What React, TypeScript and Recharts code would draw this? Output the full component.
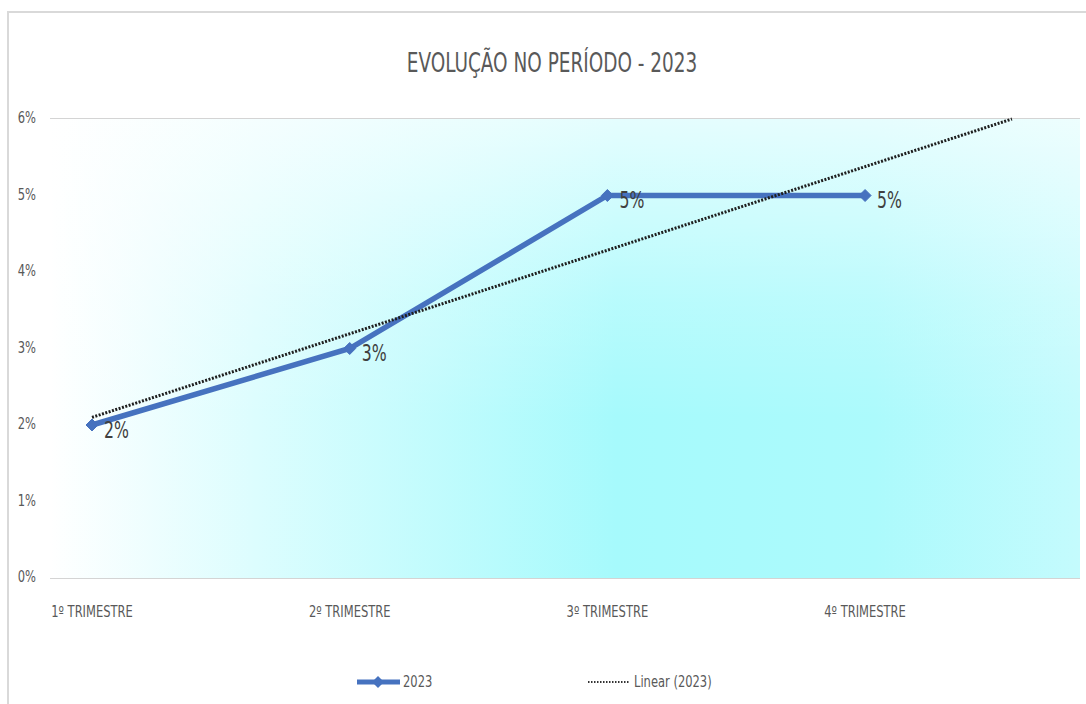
import React from 'react';
import {
  ComposedChart,
  Line,
  XAxis,
  YAxis,
  CartesianGrid,
  ReferenceArea,
  Customized,
} from 'recharts';

const categories = ['1º TRIMESTRE', '2º TRIMESTRE', '3º TRIMESTRE', '4º TRIMESTRE'];
const quarterPos = [1, 2, 3, 4];
const values2023 = [2, 3, 5, 5];
// trendline ends (Excel linear trend, forward forecast)
const trendPos = [1, 4.57];
const trendValues = [2.1, 6.0];
const yTicks = [0, 1, 2, 3, 4, 5, 6];

const seriesData = quarterPos.map((x, i) => ({ x, v: values2023[i] }));
const trendData = trendPos.map((x, i) => ({ x, t: trendValues[i] }));

const FONT = '"DejaVu Sans Condensed", "Open Sans", sans-serif';
const BLUE = '#4672bf';
const GRAY = '#595959';

// condensed text (the source font is a narrow one)
const CondText = ({ x, y, sx = 0.8, anchor = 'start', size = 15, fill = GRAY, children }: any) => (
  <text
    transform={`translate(${x},${y}) scale(${sx},1)`}
    textAnchor={anchor}
    dominantBaseline="middle"
    fill={fill}
    fontSize={size}
    fontFamily={FONT}
  >
    {children}
  </text>
);

const Diamond = (props: any) => {
  const { cx, cy } = props;
  if (cx == null || cy == null) return null;
  const s = 6;
  return (
    <path
      d={`M${cx},${cy - s} L${cx + s},${cy} L${cx},${cy + s} L${cx - s},${cy} Z`}
      fill={BLUE}
      stroke={BLUE}
      strokeWidth={1}
    />
  );
};

const PctLabel = (props: any) => {
  const { x, y, value } = props;
  return (
    <CondText x={x + 12} y={y + 6} size={23} sx={0.76} fill="#404040">
      {`${value}%`}
    </CondText>
  );
};

const XTick = (props: any) => {
  const { x, y, payload } = props;
  return (
    <CondText x={x} y={y + 7} anchor="middle" size={16} sx={0.8}>
      {categories[payload.value - 1]}
    </CondText>
  );
};

const YTick = (props: any) => {
  const { x, y, payload } = props;
  return (
    <CondText x={x} y={y} anchor="end" size={16} sx={0.8}>
      {`${payload.value}%`}
    </CondText>
  );
};

const Title = () => (
  <CondText x={552} y={64} anchor="middle" size={27} sx={0.76}>
    EVOLUÇÃO NO PERÍODO - 2023
  </CondText>
);

const LegendRow = () => (
  <g>
    <line x1={357} y1={682} x2={400} y2={682} stroke={BLUE} strokeWidth={5} />
    <path d="M378,676 L384,682 L378,688 L372,682 Z" fill={BLUE} />
    <CondText x={403} y={683} size={16} sx={0.8}>2023</CondText>
    <line x1={588} y1={682} x2={630} y2={682} stroke="#333" strokeWidth={2} strokeDasharray="1.5 1.5" />
    <CondText x={634} y={683} size={16} sx={0.8}>Linear (2023)</CondText>
  </g>
);

export default function App() {
  return (
    <div style={{ position: 'absolute', left: 0, top: 0, width: 1086, height: 704, background: '#fff', overflow: 'hidden' }}>
      <div
        style={{
          position: 'absolute',
          left: 7,
          top: 11,
          width: 1100,
          height: 720,
          border: '2px solid #d9d9d9',
        }}
      />
      <div style={{ position: 'absolute', left: 0, top: 0 }}>
        <ComposedChart
          width={1086}
          height={704}
          margin={{ top: 119, right: 6, bottom: 86, left: 8 }}
        >
          <defs>
            <linearGradient id="bgH" x1="0" y1="0" x2="1" y2="0">
              <stop offset="0%" stopColor="#ffffff" />
              <stop offset="20%" stopColor="#dcfdfe" />
              <stop offset="55%" stopColor="#a6fafc" />
              <stop offset="80%" stopColor="#acfafc" />
              <stop offset="100%" stopColor="#c4fbfd" />
            </linearGradient>
            <linearGradient id="bgV" x1="0" y1="0" x2="0" y2="1">
              <stop offset="0%" stopColor="#ffffff" stopOpacity={0.7} />
              <stop offset="40%" stopColor="#ffffff" stopOpacity={0.2} />
              <stop offset="65%" stopColor="#ffffff" stopOpacity={0} />
            </linearGradient>
          </defs>
          <ReferenceArea
            x1={0.837}
            x2={4.834}
            y1={0}
            y2={6}
            fill="url(#bgH)"
            fillOpacity={1}
            stroke="none"
            ifOverflow="visible"
          />
          <ReferenceArea
            x1={0.837}
            x2={4.834}
            y1={0}
            y2={6}
            fill="url(#bgV)"
            fillOpacity={1}
            stroke="none"
            ifOverflow="visible"
          />
          <CartesianGrid vertical={false} stroke="#d4d4d4" strokeWidth={2} />
          <XAxis
            dataKey="x"
            type="number"
            domain={[0.837, 4.834]}
            ticks={quarterPos}
            axisLine={false}
            tickLine={false}
            tickMargin={22}
            height={40}
            allowDataOverflow
            tick={<XTick />}
          />
          <YAxis
            type="number"
            domain={[0, 6]}
            ticks={yTicks}
            axisLine={false}
            tickLine={false}
            width={42}
            tickMargin={8}
            tick={<YTick />}
          />
          <Line
            data={seriesData}
            dataKey="v"
            type="linear"
            stroke={BLUE}
            strokeWidth={5.5}
            dot={<Diamond />}
            activeDot={false}
            label={<PctLabel />}
            isAnimationActive={false}
          />
          <Line
            data={trendData}
            dataKey="t"
            type="linear"
            stroke="#1f1f1f"
            strokeWidth={3}
            strokeDasharray="2 1.5"
            dot={false}
            activeDot={false}
            isAnimationActive={false}
          />
          <Customized component={Title} />
          <Customized component={LegendRow} />
        </ComposedChart>
      </div>
    </div>
  );
}
